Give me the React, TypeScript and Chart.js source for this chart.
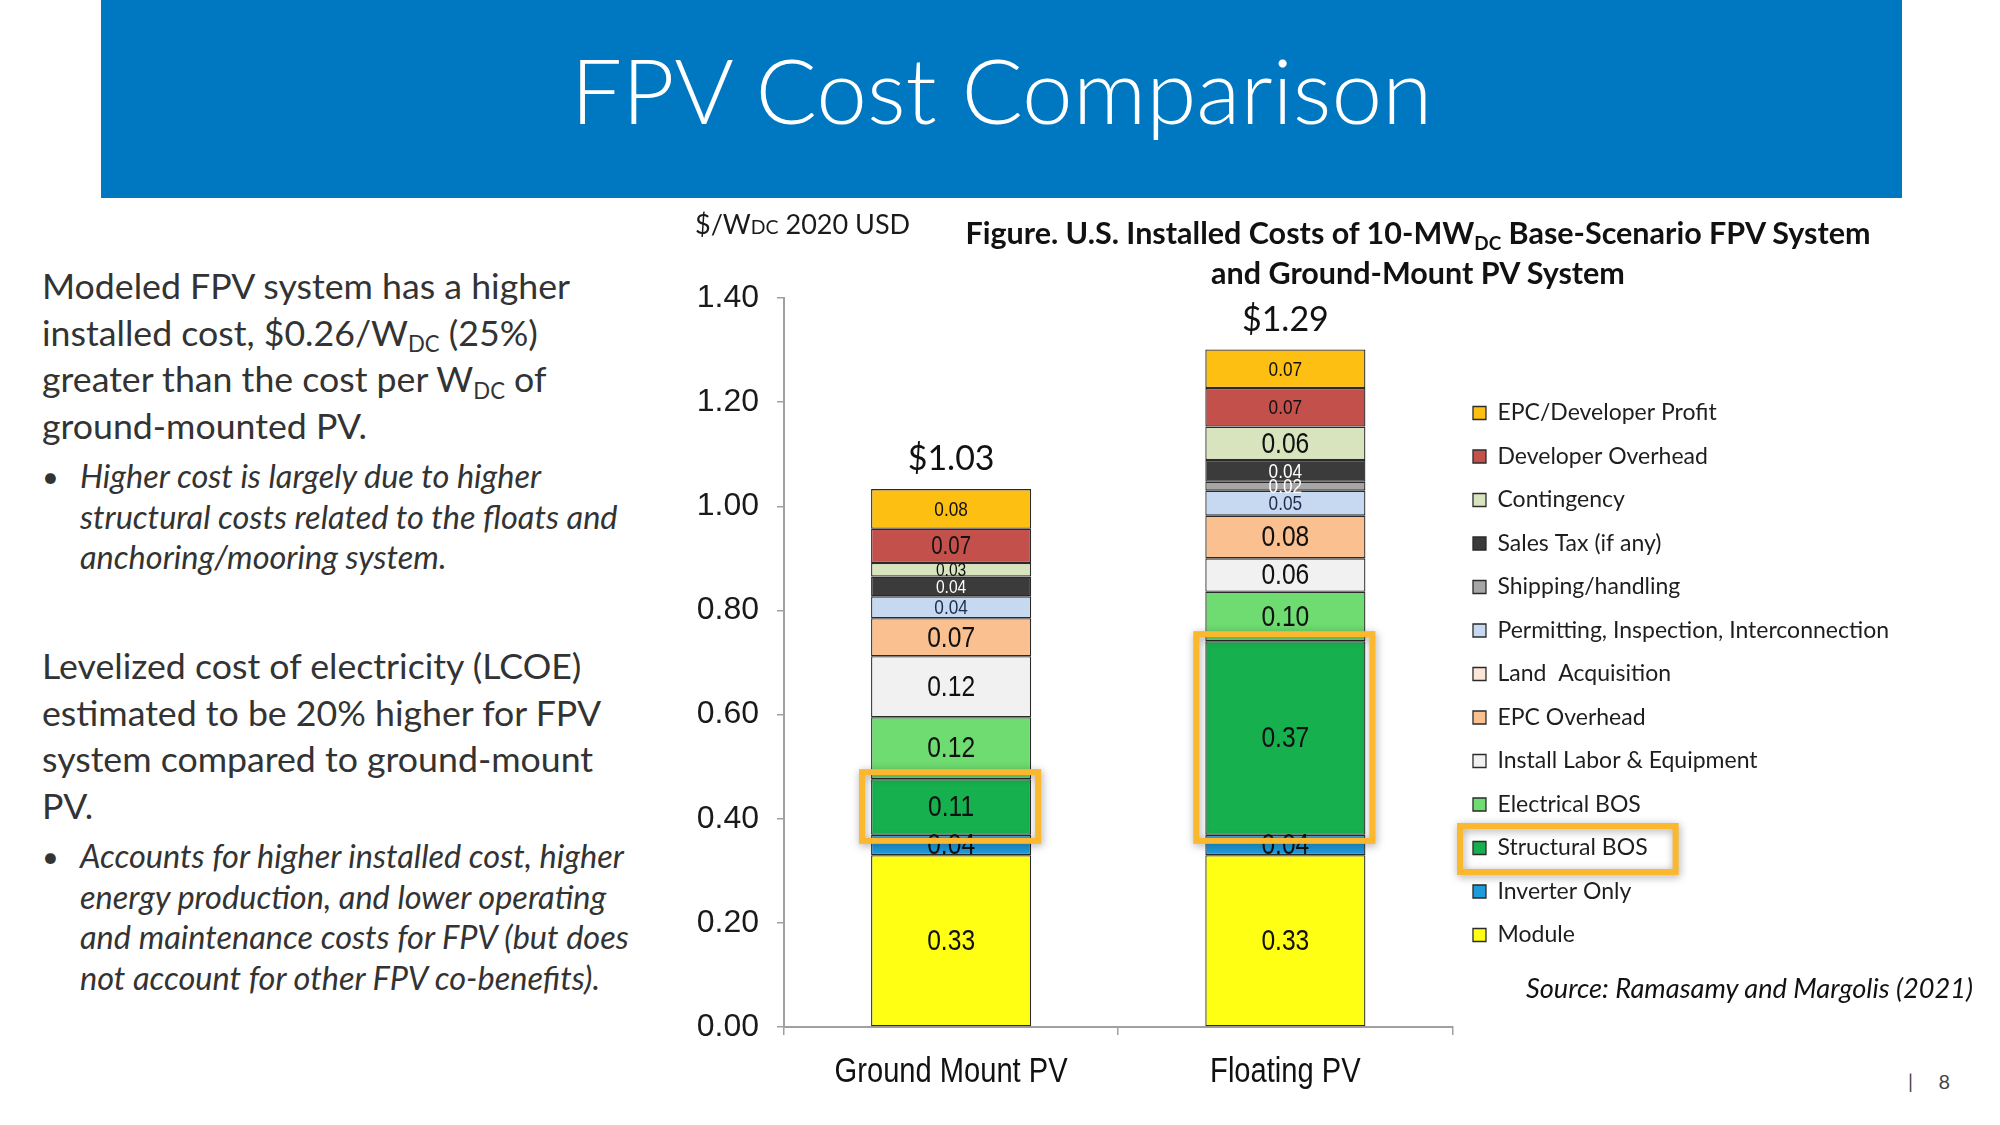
import React, { useEffect, useRef } from "react";
import { Chart, registerables } from "chart.js";

Chart.register(...registerables);

// ---------- DATA ----------
const categories = ["Ground Mount PV", "Floating PV"];

const seriesNames = [
  "Module",
  "Inverter Only",
  "Structural BOS",
  "Electrical BOS",
  "Install Labor & Equipment",
  "EPC Overhead",
  "Land  Acquisition",
  "Permitting, Inspection, Interconnection",
  "Shipping/handling",
  "Sales Tax (if any)",
  "Contingency",
  "Developer Overhead",
  "EPC/Developer Profit",
];

// $/W_DC, 2020 USD  [Ground Mount PV, Floating PV]
const moduleCost = [0.33, 0.33];
const inverterOnly = [0.039, 0.039];
const structuralBOS = [0.107, 0.372];
const electricalBOS = [0.119, 0.095];
const installLabor = [0.117, 0.064];
const epcOverhead = [0.073, 0.082];
const landAcquisition = [0, 0];
const permitting = [0.042, 0.048];
const shipping = [0, 0.017];
const salesTax = [0.038, 0.042];
const contingency = [0.026, 0.064];
const developerOverhead = [0.066, 0.074];
const developerProfit = [0.076, 0.074];

const totalLabels = ["$1.03", "$1.29"];
const yMin = 0;
const yMax = 1.4;
const yStep = 0.2;

// ---------- STYLE ----------
const seriesColors = [
  "#FFFF14",
  "#1E9BDB",
  "#17B04E",
  "#6EDC70",
  "#F1F1F1",
  "#FBC08F",
  "#FCE6D8",
  "#C6D9F0",
  "#A6A6A6",
  "#3B3B3B",
  "#D8E4BD",
  "#C4504C",
  "#FDBF12",
];
const labelColors = [
  "#111111", "#111111", "#111111", "#111111", "#111111", "#111111", "#111111",
  "#1d2c4c", "#ffffff", "#ffffff", "#111111", "#111111", "#111111",
];
const labelSizes = [
  [30, 30], [30, 30], [30, 30], [30, 30], [30, 30], [30, 30], [30, 30],
  [21, 21], [21, 21], [19, 21], [19, 30], [25, 21], [21, 21],
];

const FONT_UI = '"Lato", "Open Sans", "Noto Sans", sans-serif';
const FONT_ARIAL = '"Liberation Sans", Arial, sans-serif';
const NARROW = 0.82; // horizontal squeeze to mimic Arial Narrow

const LEGEND_FONT = 23;
const LEGEND_PAD = 20.5;
const BOX = 13;

const CANVAS_LEFT = 680;
const CANVAS_TOP = 240;
const AXIS_X = 784;
const PLOT_RIGHT = 1452;
const PLOT_TOP = 298;
const PLOT_BOTTOM = 1027;
const X_AXIS_H = 90;

const HILITE = "#FBB72E";

function narrowText(ctx: CanvasRenderingContext2D, text: string, x: number, y: number) {
  ctx.save();
  ctx.translate(x, y);
  ctx.scale(NARROW, 1);
  ctx.fillText(text, 0, 0);
  ctx.restore();
}

function ChartCanvas() {
  const ref = useRef<HTMLCanvasElement | null>(null);

  useEffect(() => {
    const canvas = ref.current!;
    const mctx = canvas.getContext("2d")!;
    mctx.font = `${LEGEND_FONT}px ${FONT_UI}`;
    const maxText = Math.max(...seriesNames.map((n) => mctx.measureText(n).width));
    const legendWidth = LEGEND_PAD + BOX + LEGEND_FONT / 2 + maxText + 10;
    const width = Math.ceil(PLOT_RIGHT - CANVAS_LEFT + legendWidth);
    const height = PLOT_BOTTOM + X_AXIS_H - CANVAS_TOP;
    canvas.width = width;
    canvas.height = height;
    canvas.style.width = width + "px";
    canvas.style.height = height + "px";

    const seriesValues = [
      moduleCost, inverterOnly, structuralBOS, electricalBOS, installLabor, epcOverhead,
      landAcquisition, permitting, shipping, salesTax, contingency, developerOverhead, developerProfit,
    ];

    const overlay = {
      id: "overlay",
      afterDraw(chart: any) {
        const ctx = chart.ctx as CanvasRenderingContext2D;
        ctx.save();
        ctx.textAlign = "center";
        ctx.textBaseline = "middle";
        // category labels (Arial-Narrow look)
        const xs = chart.scales.x;
        ctx.font = `35.5px ${FONT_ARIAL}`;
        ctx.fillStyle = "#111";
        categories.forEach((c, i) => {
          narrowText(ctx, c, xs.getPixelForValue(i), xs.top + 45);
        });
        // segment labels
        chart.data.datasets.forEach((ds: any, di: number) => {
          const meta = chart.getDatasetMeta(di);
          meta.data.forEach((el: any, i: number) => {
            const v = ds.data[i];
            if (!v) return;
            const p = el.getProps(["x", "y", "base"], true);
            ctx.font = `${labelSizes[di][i]}px ${FONT_ARIAL}`;
            ctx.fillStyle = labelColors[di];
            narrowText(ctx, v.toFixed(2), p.x, (p.y + p.base) / 2 + 1);
          });
        });
        // totals
        const topMeta = chart.getDatasetMeta(chart.data.datasets.length - 1);
        topMeta.data.forEach((el: any, i: number) => {
          const p = el.getProps(["x", "y"], true);
          ctx.font = `34px ${FONT_UI}`;
          ctx.fillStyle = "#111";
          ctx.fillText(totalLabels[i], p.x, p.y - 30);
        });
        // highlight boxes around Structural BOS
        const sIdx = seriesNames.indexOf("Structural BOS");
        const sMeta = chart.getDatasetMeta(sIdx);
        ctx.strokeStyle = HILITE;
        ctx.lineWidth = 6;
        ctx.shadowColor = "rgba(0,0,0,0.35)";
        ctx.shadowBlur = 8;
        ctx.shadowOffsetX = 1;
        ctx.shadowOffsetY = 2;
        sMeta.data.forEach((el: any) => {
          const p = el.getProps(["x", "y", "base", "width"], true);
          ctx.strokeRect(p.x - p.width / 2 - 9, p.y - 7, p.width + 16, p.base - p.y + 13);
        });
        // legend highlight
        const lg = chart.legend;
        const li = lg.legendItems.findIndex((it: any) => it.text === "Structural BOS");
        const hb = lg.legendHitBoxes[li];
        if (hb) {
          ctx.font = `${LEGEND_FONT}px ${FONT_UI}`;
          const tw = ctx.measureText("Structural BOS").width;
          const cy = hb.top + hb.height / 2;
          const left = hb.left - 13;
          const right = hb.left + BOX + LEGEND_FONT / 2 + tw + 28;
          ctx.strokeRect(left, cy - 22, right - left, 46);
        }
        ctx.restore();
      },
    };

    const chart = new Chart(canvas, {
      type: "bar",
      data: {
        labels: categories,
        datasets: seriesNames.map((name, i) => ({
          label: name,
          data: seriesValues[i],
          backgroundColor: seriesColors[i],
          borderColor: "#2a2a2a",
          borderWidth: 1.3,
          borderSkipped: false,
          categoryPercentage: 1,
          barPercentage: 0.479,
        })),
      },
      options: {
        responsive: false,
        animation: false,
        devicePixelRatio: 1,
        layout: { padding: { top: PLOT_TOP - CANVAS_TOP, left: 0, right: 0, bottom: 0 } },
        plugins: {
          tooltip: { enabled: false },
          title: { display: false },
          legend: {
            position: "right",
            align: "center",
            fullSize: false,
            reverse: true,
            maxWidth: 800,
            title: {
              display: true,
              text: " ",
              font: { size: 1, lineHeight: 1 },
              padding: { top: 11, bottom: 11 },
            },
            labels: {
              boxWidth: BOX,
              boxHeight: BOX,
              padding: LEGEND_PAD,
              color: "#1e1e1e",
              font: { family: FONT_UI, size: LEGEND_FONT },
            },
          },
        },
        scales: {
          x: {
            stacked: true,
            afterFit: (s: any) => {
              s.height = X_AXIS_H;
            },
            grid: {
              offset: true,
              drawOnChartArea: false,
              tickLength: 8,
              color: "#a0a0a0",
              lineWidth: 1.5,
            },
            border: { color: "#a0a0a0", width: 2 },
            ticks: { display: false },
          },
          y: {
            stacked: true,
            min: yMin,
            max: yMax,
            afterFit: (s: any) => {
              s.width = AXIS_X - CANVAS_LEFT;
            },
            grid: {
              drawOnChartArea: false,
              tickLength: 7,
              color: "#a0a0a0",
              lineWidth: 1.5,
            },
            border: { color: "#a0a0a0", width: 2 },
            ticks: {
              stepSize: yStep,
              padding: 18,
              color: "#1a1a1a",
              font: { family: FONT_ARIAL, size: 32 },
              callback: (v: any) => Number(v).toFixed(2),
            },
          },
        },
      },
      plugins: [overlay],
    });
    return () => chart.destroy();
  }, []);

  return (
    <canvas
      ref={ref}
      style={{ position: "absolute", left: CANVAS_LEFT, top: CANVAS_TOP }}
    />
  );
}

const textColor = "#333333";

export default function App() {
  const bodyText: React.CSSProperties = {
    position: "absolute",
    left: 42,
    fontFamily: FONT_UI,
    fontSize: 35.7,
    lineHeight: "46.7px",
    color: textColor,
    whiteSpace: "nowrap",
  };
  const bulletText: React.CSSProperties = {
    position: "absolute",
    left: 80,
    fontFamily: FONT_UI,
    fontStyle: "italic",
    fontSize: 32.5,
    lineHeight: "40.5px",
    color: textColor,
    whiteSpace: "nowrap",
  };
  const bulletDot: React.CSSProperties = {
    position: "absolute",
    left: 42,
    fontFamily: FONT_UI,
    fontSize: 29,
    lineHeight: "40.5px",
    color: textColor,
  };
  const sub: React.CSSProperties = {
    fontSize: "0.62em",
    position: "relative",
    top: "0.3em",
    lineHeight: 0,
  };

  return (
    <div
      style={{
        position: "fixed",
        left: 0,
        top: 0,
        width: 2000,
        height: 1125,
        background: "#ffffff",
        overflow: "hidden",
      }}
    >
      {/* header */}
      <div
        style={{
          position: "absolute",
          left: 101,
          top: 0,
          width: 1801,
          height: 198,
          background: "#0078C1",
        }}
      />
      <div
        style={{
          position: "absolute",
          left: 101,
          width: 1801,
          top: 35,
          textAlign: "center",
          fontFamily: FONT_UI,
          fontWeight: 300,
          fontSize: 91,
          lineHeight: "108px",
          color: "#ffffff",
        }}
      >
        FPV Cost Comparison
      </div>

      {/* left text */}
      <div style={{ ...bodyText, top: 263 }}>
        Modeled FPV system has a higher
        <br />
        installed cost, $0.26/W<span style={sub}>DC</span> (25%)
        <br />
        greater than the cost per W<span style={sub}>DC</span> of
        <br />
        ground-mounted PV.
      </div>
      <div style={{ ...bulletDot, top: 456 }}>•</div>
      <div style={{ ...bulletText, top: 456 }}>
        Higher cost is largely due to higher
        <br />
        structural costs related to the floats and
        <br />
        anchoring/mooring system.
      </div>

      <div style={{ ...bodyText, top: 643 }}>
        Levelized cost of electricity (LCOE)
        <br />
        estimated to be 20% higher for FPV
        <br />
        system compared to ground-mount
        <br />
        PV.
      </div>
      <div style={{ ...bulletDot, top: 836 }}>•</div>
      <div style={{ ...bulletText, top: 836 }}>
        Accounts for higher installed cost, higher
        <br />
        energy production, and lower operating
        <br />
        and maintenance costs for FPV (but does
        <br />
        not account for other FPV co-benefits).
      </div>

      {/* chart */}
      <ChartCanvas />

      {/* axis unit label */}
      <div
        style={{
          position: "absolute",
          left: 695,
          top: 206,
          fontFamily: FONT_UI,
          fontSize: 27,
          lineHeight: "36px",
          color: "#1a1a1a",
          whiteSpace: "nowrap",
        }}
      >
        $/W<span style={{ fontSize: "0.72em" }}>DC</span> 2020 USD
      </div>

      {/* figure title */}
      <div
        style={{
          position: "absolute",
          left: 918,
          width: 1000,
          top: 212,
          textAlign: "center",
          fontFamily: FONT_UI,
          fontWeight: 700,
          fontSize: 30.5,
          lineHeight: "40px",
          color: "#111",
          whiteSpace: "nowrap",
        }}
      >
        Figure. U.S. Installed Costs of 10-MW<span style={sub}>DC</span> Base-Scenario FPV System
        <br />
        and Ground-Mount PV System
      </div>

      {/* source */}
      <div
        style={{
          position: "absolute",
          right: 27,
          top: 971,
          fontFamily: FONT_UI,
          fontStyle: "italic",
          fontSize: 27.2,
          lineHeight: "34px",
          color: "#111",
          whiteSpace: "nowrap",
        }}
      >
        Source: Ramasamy and Margolis (2021)
      </div>

      {/* page number */}
      <div
        style={{
          position: "absolute",
          left: 1908,
          top: 1068,
          fontFamily: FONT_UI,
          fontSize: 20,
          lineHeight: "26px",
          color: "#444",
          whiteSpace: "pre",
        }}
      >
        {"|     8"}
      </div>
    </div>
  );
}
